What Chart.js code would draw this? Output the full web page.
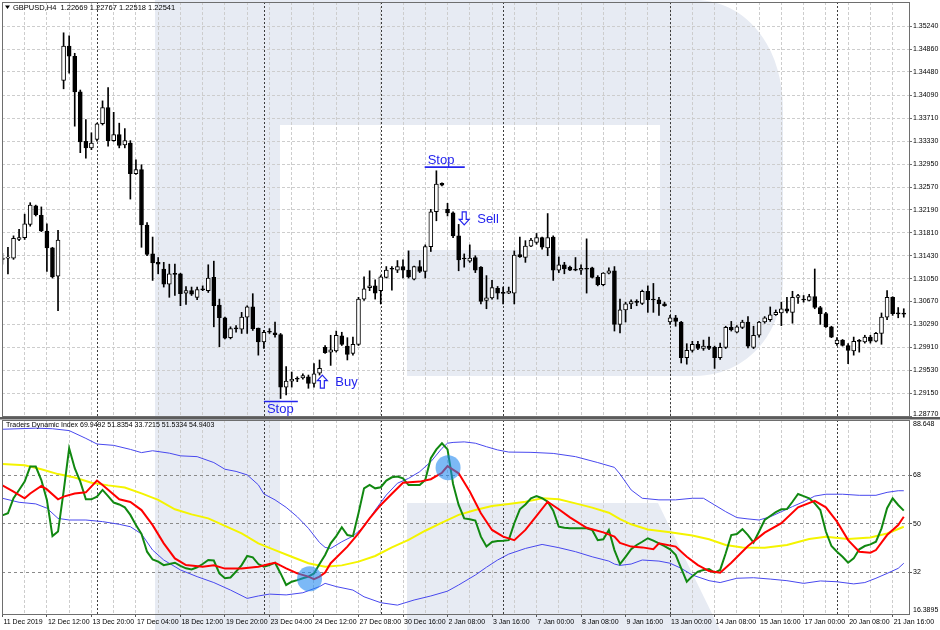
<!DOCTYPE html>
<html><head><meta charset="utf-8">
<script src="https://cdn.jsdelivr.net/npm/chart.js@4/dist/chart.umd.min.js"></script>
<style>
html,body{margin:0;padding:0;background:#fff;}
#wrap{position:relative;width:940px;height:630px;overflow:hidden;background:#fff;}
#bg{position:absolute;left:0;top:0;}
#c1{position:absolute;left:0;top:0;}
#c2{position:absolute;left:0;top:417px;}
</style></head><body>
<div id="wrap">
<svg id="bg" width="940" height="630">
 <g fill="#e7ebf3">
  <rect x="155" y="0" width="125" height="630"/>
  <path d="M155 0 L695 0 C745 0 783 45 783 110 L783 280 C783 335 745 376 695 376 L407 376 L407 250 L660 250 L660 125 L155 125 Z"/>
  <path d="M407 503 L658 503 L720 630 L407 630 Z"/>
 </g>
</svg>
<canvas id="c1" width="940" height="424"></canvas>
<canvas id="c2" width="940" height="213"></canvas>
</div>
<script>
// ---------- DATA ----------
const symbolHeader = 'GBPUSD,H4  1.22669 1.22767 1.22518 1.22541';
const tdiHeader = 'Traders Dynamic Index 69.9492 51.8354 33.7215 51.5334 54.9403';

const xTickLabels = ['11 Dec 2019','12 Dec 12:00','13 Dec 20:00','17 Dec 04:00','18 Dec 12:00','19 Dec 20:00',
 '23 Dec 04:00','24 Dec 12:00','27 Dec 08:00','30 Dec 16:00','2 Jan 08:00','3 Jan 16:00','7 Jan 00:00',
 '8 Jan 08:00','9 Jan 16:00','13 Jan 00:00','14 Jan 08:00','15 Jan 16:00','17 Jan 00:00','20 Jan 08:00','21 Jan 16:00'];
const weekSeparators = [17, 47, 68, 90, 120, 150];

const priceTicks = [1.35240,1.34860,1.34480,1.34090,1.33710,1.33330,1.32950,1.32570,1.32190,1.31810,
 1.31430,1.31050,1.30670,1.30290,1.29910,1.29530,1.29150,1.28770];
const priceTickLabels = priceTicks.map(v => v.toFixed(5));
const tdiTicks = [88.648, 68, 50, 32, 16.3895];
const tdiTickLabels = ['88.648','68','50','32','16.3895'];

const opens = [1.3137,1.3139,1.3139,1.3170,1.3173,1.3195,1.3226,1.3210,1.3184,1.3156,
1.3109,1.3434,1.3491,1.3474,1.3415,1.3333,1.3322,1.3336,1.3362,1.3389,
1.3334,1.3344,1.3327,1.3330,1.3279,1.3286,1.3194,1.3146,1.3132,1.3121,
1.3096,1.3112,1.3113,1.3081,1.3085,1.3074,1.3087,1.3085,1.3107,1.3061,
1.3040,1.3007,1.3022,1.3021,1.3041,1.3058,1.3023,1.3000,1.3016,1.3015,
1.3012,1.2925,1.2935,1.2938,1.2940,1.2942,1.2931,1.2948,1.2991,1.2983,
1.2985,1.3010,1.2993,1.2981,1.2996,1.3071,1.3090,1.3093,1.3085,1.3107,
1.3121,1.3119,1.3125,1.3119,1.3104,1.3125,1.3117,1.3158,1.3216,1.3263,
1.3220,1.3214,1.3176,1.3138,1.3134,1.3140,1.3124,1.3069,1.3073,1.3089,
1.3081,1.3081,1.3081,1.3145,1.3140,1.3159,1.3165,1.3173,1.3156,1.3174,
1.3119,1.3128,1.3124,1.31195,1.3119,1.3121,1.3123,1.3107,1.3095,1.3114,
1.3118,1.3029,1.3053,1.3063,1.3066,1.3064,1.3084,1.3070,1.3070,1.3063,
1.3033,1.3040,1.3033,1.2974,1.2986,1.2996,1.2989,1.2993,1.2991,1.2974,
1.2991,1.3024,1.3016,1.3024,1.3033,1.2991,1.3011,1.3033,1.3037,1.3045,
1.3048,1.3055,1.3049,1.3074,1.3070,1.3069,1.3075,1.3057,1.3047,1.3025,
1.2997,1.3003,1.2994,1.2985,1.3001,1.3000,1.3008,1.3001,1.3014,1.3041,
1.3074,1.3047,1.3047];
const highs = [1.3147,1.3157,1.3176,1.3187,1.3212,1.3231,1.3227,1.3224,1.3196,1.3157,
1.3185,1.3513,1.3508,1.3479,1.3418,1.3369,1.3347,1.3363,1.3400,1.3422,
1.3381,1.3363,1.3354,1.3334,1.3302,1.3294,1.3198,1.3174,1.3140,1.3132,
1.3129,1.3129,1.3114,1.3092,1.3091,1.3091,1.3093,1.3128,1.3134,1.3071,
1.3041,1.3025,1.3027,1.3049,1.3060,1.3080,1.3023,1.3019,1.3022,1.3033,
1.3014,1.2959,1.2950,1.2942,1.2947,1.2945,1.2964,1.2970,1.2994,1.3011,
1.3018,1.3016,1.3007,1.3008,1.3074,1.3108,1.3118,1.3103,1.3110,1.3125,
1.3125,1.3135,1.3136,1.3151,1.3126,1.3135,1.3161,1.3220,1.3284,1.3264,
1.3230,1.3216,1.3195,1.3146,1.3161,1.3143,1.3125,1.3110,1.3102,1.3092,
1.3091,1.3091,1.3151,1.3174,1.3168,1.3172,1.3180,1.3174,1.3213,1.3176,
1.3141,1.3132,1.3126,1.3140,1.3128,1.3171,1.3124,1.3110,1.3115,1.3123,
1.3125,1.3071,1.3066,1.3070,1.3070,1.3086,1.3093,1.3097,1.3074,1.3066,
1.3044,1.3044,1.3034,1.2997,1.3001,1.3001,1.3003,1.3008,1.2993,1.2998,
1.3026,1.3034,1.3027,1.3036,1.3042,1.3026,1.3034,1.3042,1.3058,1.3053,
1.3066,1.3074,1.3084,1.3079,1.3077,1.3079,1.3121,1.3059,1.3049,1.3026,
1.3007,1.3004,1.2997,1.3008,1.3004,1.3011,1.3011,1.3016,1.3048,1.3085,
1.3075,1.3057,1.3055];
const lows = [1.3129,1.3113,1.3137,1.3168,1.3170,1.3192,1.3209,1.3183,1.3117,1.3106,
1.3052,1.3420,1.3446,1.3358,1.3314,1.3305,1.3319,1.3333,1.3360,1.3325,
1.3333,1.3322,1.3322,1.3237,1.3278,1.3157,1.3143,1.3102,1.3113,1.3091,
1.3074,1.3077,1.3060,1.3062,1.3077,1.3070,1.3085,1.3082,1.3025,1.2992,
1.3005,1.3005,1.3016,1.3014,1.3014,1.3019,1.2978,1.2989,1.3014,1.3008,
1.2906,1.2912,1.2925,1.2934,1.2938,1.2923,1.2925,1.2945,1.2981,1.2961,
1.2983,1.2994,1.2970,1.2978,1.2994,1.3069,1.3085,1.3071,1.3063,1.3106,
1.3086,1.3115,1.3106,1.3106,1.3103,1.3115,1.3106,1.3150,1.3201,1.3259,
1.3209,1.3173,1.3118,1.3124,1.3132,1.3115,1.3063,1.3055,1.3071,1.3071,
1.3063,1.3080,1.3063,1.3140,1.3132,1.3158,1.3162,1.3154,1.3143,1.3102,
1.3115,1.3113,1.3118,1.3118,1.3112,1.3081,1.3106,1.3093,1.3093,1.3113,
1.3018,1.3015,1.3033,1.3055,1.3060,1.3062,1.3049,1.3049,1.3044,1.3059,
1.3029,1.3026,1.2965,1.2963,1.2983,1.2987,1.2986,1.2987,1.2956,1.2971,
1.2989,1.3018,1.3015,1.3022,1.2990,1.2989,1.3008,1.3031,1.3034,1.3044,
1.3027,1.3048,1.3031,1.3064,1.3066,1.3068,1.3055,1.3029,1.3024,1.3007,
1.2994,1.2993,1.2964,1.2978,1.2983,1.2998,1.2998,1.3000,1.2996,1.3037,
1.3044,1.3040,1.3041];
const closes = [1.3139,1.3140,1.3172,1.3173,1.3196,1.3227,1.3211,1.3184,1.3156,1.3108,
1.3169,1.3491,1.3474,1.3415,1.3332,1.3322,1.3330,1.3362,1.3389,1.3334,
1.3344,1.3326,1.3334,1.3279,1.3286,1.3194,1.3145,1.3131,1.3129,1.3096,
1.3113,1.31125,1.3080,1.3085,1.3079,1.3087,1.30865,1.3106,1.3060,1.3040,
1.3006,1.3022,1.30215,1.3041,1.3058,1.3022,1.3000,1.3016,1.30165,1.3012,
1.2925,1.2935,1.2938,1.29385,1.2944,1.2931,1.2947,1.2956,1.2982,1.2987,
1.3011,1.2996,1.2979,1.2996,1.3071,1.3088,1.3093,1.3081,1.3108,1.3119,
1.31205,1.3125,1.3119,1.3108,1.3125,1.3117,1.3158,1.3216,1.3262,1.3260,
1.3214,1.3176,1.3136,1.31375,1.3139,1.3119,1.3067,1.3073,1.3090,1.3081,
1.30805,1.3084,1.3144,1.3141,1.3159,1.3169,1.3173,1.3157,1.3173,1.3119,
1.3128,1.3121,1.3119,1.3119,1.3122,1.31205,1.3107,1.3095,1.3114,1.3118,
1.3029,1.3053,1.3063,1.3067,1.30655,1.3084,1.3070,1.30695,1.3063,1.3060,
1.3040,1.3034,1.2974,1.2986,1.2996,1.2989,1.2993,1.2989,1.2974,1.2991,
1.3024,1.3020,1.3025,1.3033,1.2993,1.3011,1.3033,1.3040,1.3045,1.3049,
1.3055,1.3051,1.3074,1.3077,1.30695,1.3075,1.3057,1.3047,1.3025,1.3008,
1.3003,1.2994,1.2986,1.3001,1.30008,1.3008,1.3001,1.3014,1.3041,1.3074,
1.3047,1.30466,1.3046];

// Traders Dynamic Index lines (bar index, value)
const rsiPriceLine = [53.1,53.9,59.5,62.6,65.7,71.3,71.3,66.3,58.9,45.4,
47.1,62.0,78.1,70.7,65.7,59.1,59.1,60.1,62.6,60.3,
57.9,57.2,56.1,53.3,49.5,46.2,39.6,36.7,35.9,34.6,
35.0,35.5,34.3,33.4,33.0,33.8,35.0,36.5,36.3,31.5,
29.7,30.0,32.2,34.6,38.0,37.5,35.0,34.0,34.6,35.5,
31.5,27.2,28.4,29.0,29.7,30.3,31.5,35.0,38.4,42.7,
45.4,48.7,45.8,45.4,53.9,63.2,64.5,63.2,63.6,66.1,
67.3,67.6,66.9,64.4,64.4,64.4,66.3,74.4,77.7,80.0,
77.7,64.8,57.0,52.0,51.7,51.2,45.2,41.5,43.2,43.6,
43.7,43.9,50.2,55.4,57.2,59.5,60.3,59.5,58.2,54.9,
48.9,48.5,48.3,48.3,48.3,48.3,47.7,43.9,44.2,47.7,
40.2,35.0,37.7,40.5,42.1,43.3,44.6,43.7,42.7,41.7,
40.5,38.4,33.4,28.4,30.5,32.2,32.8,33.1,31.8,32.8,
39.0,45.8,46.2,48.0,45.8,43.0,47.1,51.4,52.9,54.3,
55.4,55.5,58.2,61.1,60.3,59.5,57.6,55.1,47.1,41.7,
39.6,37.7,35.5,37.1,40.5,41.7,42.3,43.3,48.3,55.8,
59.5,57.0,54.9];
const tradeSignalLine = [[0,64.3],[2,62.0],[4,59.5],[5,61.3],[7,64.1],[8,62.8],[10,59.1],[11,60.1],[13,61.3],[15,61.7],
[17,66.1],[18,64.4],[21,59.1],[23,58.1],[25,55.1],[27,49.5],[29,42.7],[31,37.1],[33,34.6],[36,34.0],
[38,34.5],[40,33.3],[43,33.3],[46,34.0],[48,35.0],[49,35.5],[51,33.4],[53,31.5],[55,30.3],[56,29.4],
[57,30.3],[58,31.8],[59,35.3],[62,41.5],[64,46.4],[66,52.0],[68,57.0],[70,61.2],[72,65.3],[75,65.7],
[77,66.6],[79,69.0],[80,71.5],[82,68.8],[84,62.0],[86,53.9],[88,47.7],[90,45.2],[92,43.9],[94,47.7],
[96,52.9],[98,58.2],[100,55.4],[102,52.4],[105,48.5],[108,46.8],[110,45.2],[111,42.9],[113,41.5],[115,41.2],
[117,40.5],[118,42.7],[121,41.5],[123,37.7],[125,34.6],[127,32.4],[129,31.8],[131,35.5],[134,41.7],[137,46.7],
[140,50.2],[143,56.1],[146,58.5],[148,56.1],[150,50.8],[152,43.9],[154,39.6],[156,39.2],[157,40.2],[159,45.8],
[161,49.5],[162,52.6]];
const marketBaseLine = [[0,72.3],[4,71.8],[7,70.3],[10,68.5],[13,67.2],[16,65.3],[19,64.3],[22,63.5],[25,61.3],[28,58.9],
[31,55.4],[34,53.5],[37,52.0],[40,49.2],[43,46.4],[46,42.7],[49,40.2],[52,37.7],[55,35.3],[58,34.0],
[61,34.5],[64,35.9],[67,38.0],[70,41.2],[73,44.0],[76,47.4],[79,50.4],[82,53.3],[85,55.1],[88,56.6],
[91,57.4],[94,58.2],[97,59.5],[100,59.1],[103,57.6],[106,56.0],[109,54.1],[111,51.7],[113,49.8],[116,47.9],
[120,46.8],[124,45.6],[127,44.2],[130,42.1],[133,41.2],[137,41.1],[141,42.1],[145,44.3],[148,45.2],[152,44.3],
[156,44.9],[159,46.4],[162,48.9]];
const upperBand = [[0,85.2],[6,85.6],[9,85.4],[12,84.7],[15,81.8],[17,79.7],[20,79.2],[23,77.7],[25,76.5],[27,77.2],
[30,76.3],[32,75.3],[35,75.0],[38,72.8],[40,70.3],[42,69.5],[44,68.2],[46,64.5],[47,61.1],[49,58.9],
[51,56.1],[53,52.6],[55,48.3],[57,43.0],[58,41.2],[59,40.8],[61,43.3],[63,45.4],[65,48.9],[67,55.1],
[69,60.7],[71,65.1],[73,66.9],[75,69.4],[77,73.1],[79,78.1],[80,80.0],[81,80.3],[83,80.5],[85,80.0],
[87,78.7],[89,77.5],[91,76.7],[95,76.6],[99,76.2],[103,75.0],[107,72.8],[110,71.0],[111,68.5],[113,62.6],
[115,59.5],[118,58.9],[121,58.9],[124,59.5],[126,59.5],[128,57.0],[130,54.5],[132,52.3],[134,51.8],[136,51.4],
[138,52.6],[140,54.5],[142,56.4],[144,58.2],[146,60.3],[148,61.0],[151,61.0],[154,60.6],[157,60.6],[159,61.7],
[161,62.3],[162,62.3]];
const lowerBand = [[0,59.5],[3,58.0],[6,57.4],[8,55.8],[10,52.0],[12,51.4],[15,51.4],[18,50.8],[21,49.8],[23,48.9],
[25,46.2],[27,40.2],[29,36.5],[32,32.8],[35,30.3],[38,28.1],[41,25.3],[44,22.2],[46,23.1],[48,23.8],
[51,23.5],[54,24.3],[57,26.6],[58,27.8],[60,26.6],[63,25.3],[65,22.8],[68,20.6],[71,19.7],[74,21.6],
[77,23.1],[80,24.9],[82,27.2],[85,30.9],[87,33.8],[89,36.5],[91,38.7],[94,40.8],[97,42.3],[100,41.1],
[103,39.6],[106,37.7],[109,36.1],[110,35.0],[111,34.5],[113,35.0],[115,36.5],[118,36.1],[120,35.3],[122,33.4],
[124,30.9],[127,28.8],[129,28.1],[132,29.7],[135,29.9],[138,29.4],[141,28.8],[144,27.8],[147,28.7],[150,28.4],
[153,27.6],[155,28.1],[157,29.7],[159,31.5],[161,33.4],[162,35.3]];
const crossMarks = [[55.2, 29.5],[80.1, 70.9]];

const stopLevels = [
  {text:'Stop', from:47.0, to:53.1, price:1.2901, below:true},
  {text:'Stop', from:75.9, to:83.1, price:1.3290, below:false}
];
const tradeSignals = [
  {text:'Buy', bar:57.5, price:1.2934, dir:'up'},
  {text:'Sell', bar:83.0, price:1.3205, dir:'down'}
];

// ---------- RENDER ----------
Chart.defaults.font.family = "'Liberation Sans', Arial, sans-serif";
const X_MIN = -0.07, X_MAX = 162.94;
const gridBars = []; for (let k = 0; k <= 162; k += 4) gridBars.push(k);
const BLUE = '#2424ee';
const noPad = s => { s.paddingLeft = 0; s.paddingRight = 0; s.paddingTop = 0; s.paddingBottom = 0; };

function drawSeparators(chart){
  const {ctx, chartArea:a, scales:{x}} = chart;
  ctx.save();
  ctx.strokeStyle = '#3c3c3c'; ctx.lineWidth = 1; ctx.setLineDash([2,2]);
  weekSeparators.forEach(k => {
    const px = Math.round(x.getPixelForValue(k)) + 0.5;
    ctx.beginPath(); ctx.moveTo(px, a.top); ctx.lineTo(px, a.bottom); ctx.stroke();
  });
  ctx.restore();
}
function drawFrame(chart){
  const {ctx, chartArea:a} = chart;
  ctx.save(); ctx.strokeStyle = '#6e6e6e'; ctx.lineWidth = 1;
  ctx.strokeRect(Math.round(a.left)+0.5, Math.round(a.top)+0.5, Math.round(a.right-a.left), Math.round(a.bottom-a.top));
  ctx.restore();
}
function drawAxisLabels(chart, values, labels, topInset, bottomInset){
  const {ctx, chartArea:a, scales:{y}} = chart;
  ctx.save();
  ctx.fillStyle = '#000';
  ctx.font = "7px 'Liberation Sans', Arial, sans-serif";
  ctx.textBaseline = 'middle'; ctx.textAlign = 'left';
  values.forEach((v, i) => {
    let py = y.getPixelForValue(v);
    py = Math.min(Math.max(py, a.top + topInset), a.bottom - bottomInset);
    ctx.fillText(labels[i], a.right + 4, py);
  });
  ctx.restore();
}
function drawArrow(ctx, cx, cy, dir){
  const s = dir === 'up' ? 1 : -1;
  ctx.beginPath();
  ctx.moveTo(cx, cy - 6.5*s);
  ctx.lineTo(cx + 5, cy - 1*s);
  ctx.lineTo(cx + 2, cy - 1*s);
  ctx.lineTo(cx + 2, cy + 6.5*s);
  ctx.lineTo(cx - 2, cy + 6.5*s);
  ctx.lineTo(cx - 2, cy - 1*s);
  ctx.lineTo(cx - 5, cy - 1*s);
  ctx.closePath();
  ctx.lineWidth = 1.2; ctx.stroke();
}

const upperPlugin = {
  id:'upperDeco',
  beforeDatasetsDraw(chart){ drawSeparators(chart); },
  afterDatasetsDraw(chart){
    const {ctx, scales:{x, y}} = chart;
    ctx.save();
    ctx.strokeStyle = BLUE; ctx.fillStyle = BLUE;
    ctx.font = "13px 'Liberation Sans', Arial, sans-serif";
    ctx.textBaseline = 'middle'; ctx.textAlign = 'left';
    stopLevels.forEach(s => {
      const x0 = x.getPixelForValue(s.from), x1 = x.getPixelForValue(s.to), py = y.getPixelForValue(s.price);
      ctx.lineWidth = 1.6; ctx.beginPath(); ctx.moveTo(x0, py); ctx.lineTo(x1, py); ctx.stroke();
      ctx.fillText(s.text, x0 + 3, py + (s.below ? 8 : -7));
    });
    tradeSignals.forEach(t => {
      const cx = x.getPixelForValue(t.bar), cy = y.getPixelForValue(t.price);
      drawArrow(ctx, cx, cy, t.dir);
      ctx.fillText(t.text, cx + 13, cy + 1);
    });
    ctx.restore();
  },
  afterDraw(chart){
    drawFrame(chart);
    drawAxisLabels(chart, priceTicks, priceTickLabels, 0, 2);
    const ctx = chart.ctx;
    ctx.save();
    ctx.fillStyle = '#000';
    ctx.beginPath(); ctx.moveTo(5, 5.5); ctx.lineTo(10, 5.5); ctx.lineTo(7.5, 9); ctx.closePath(); ctx.fill();
    ctx.font = "7.5px 'Liberation Sans', Arial, sans-serif";
    ctx.textBaseline = 'middle'; ctx.textAlign = 'left';
    ctx.fillText(symbolHeader, 13, 7.5);
    ctx.restore();
  }
};

const bodyColors = opens.map((o, i) => (closes[i] - o) > 0.00006 ? '#ffffff' : '#000000');

new Chart(document.getElementById('c1'), {
  type: 'bar',
  data: { datasets: [
    { data: opens.map((o, i) => ({x: i, y: [Math.min(o, closes[i]), Math.max(o, closes[i])]})),
      backgroundColor: bodyColors, borderColor: '#000', borderWidth: 1, borderSkipped: false,
      barThickness: 4, minBarLength: 1, grouped: false, order: 1 },
    { data: lows.map((l, i) => ({x: i, y: [l, highs[i]]})),
      backgroundColor: '#000', borderWidth: 0, barThickness: 1, minBarLength: 1, grouped: false, order: 2 }
  ]},
  options: {
    responsive: false, animation: false,
    plugins: { legend: {display: false}, tooltip: {enabled: false} },
    layout: { autoPadding: false, padding: {left: 2, top: 2, right: 0, bottom: 8} },
    scales: {
      x: { type: 'linear', min: X_MIN, max: X_MAX, offset: false,
        afterBuildTicks: s => { s.ticks = gridBars.map(v => ({value: v})); },
        ticks: {display: false},
        grid: {color: '#cdcdcd', drawTicks: false, offset: false, lineWidth: 1},
        border: {display: false, dash: [3, 2]},
        afterFit: s => { s.height = 0; noPad(s); } },
      y: { position: 'right', min: 1.28770, max: 1.35641,
        afterBuildTicks: s => { s.ticks = priceTicks.map(v => ({value: v})); },
        ticks: {display: false},
        grid: {color: '#cdcdcd', tickLength: 3, drawTicks: true, tickColor: '#707070'},
        border: {display: false, dash: [3, 2]},
        afterFit: s => { s.width = 31; noPad(s); } }
    }
  },
  plugins: [upperPlugin]
});

const lowerPlugin = {
  id:'lowerDeco',
  beforeDatasetsDraw(chart){ drawSeparators(chart); },
  afterDraw(chart){
    drawFrame(chart);
    drawAxisLabels(chart, tdiTicks, tdiTickLabels, 4, 4);
    const ctx = chart.ctx;
    ctx.save();
    ctx.fillStyle = '#5c5c5c';
    ctx.fillRect(0, 0, 940, 2.5);
    ctx.fillStyle = '#000';
    ctx.font = "7px 'Liberation Sans', Arial, sans-serif";
    ctx.textBaseline = 'middle'; ctx.textAlign = 'left';
    ctx.fillText(tdiHeader, 6, 8);
    ctx.restore();
  }
};

const pairs = arr => arr.map(p => ({x: p[0], y: p[1]}));
new Chart(document.getElementById('c2'), {
  type: 'line',
  data: { datasets: [
    { data: pairs(crossMarks), showLine: false, pointRadius: 12.5, pointHoverRadius: 12.5,
      pointBackgroundColor: 'rgba(30,135,240,0.58)', pointBorderWidth: 0, order: 0 },
    { data: pairs(tradeSignalLine), borderColor: '#ff0000', borderWidth: 2, pointRadius: 0, tension: 0, order: 1 },
    { data: rsiPriceLine.map((v, i) => ({x: i, y: v})), borderColor: '#118811', borderWidth: 2, pointRadius: 0, tension: 0, order: 2 },
    { data: pairs(marketBaseLine), borderColor: '#f4f400', borderWidth: 2, pointRadius: 0, tension: 0, order: 3 },
    { data: pairs(upperBand), borderColor: '#4848ee', borderWidth: 1, pointRadius: 0, tension: 0, order: 4 },
    { data: pairs(lowerBand), borderColor: '#4848ee', borderWidth: 1, pointRadius: 0, tension: 0, order: 4 }
  ]},
  options: {
    responsive: false, animation: false,
    plugins: { legend: {display: false}, tooltip: {enabled: false} },
    layout: { autoPadding: false, padding: {left: 2, top: 3, right: 0, bottom: 0} },
    scales: {
      x: { type: 'linear', min: X_MIN, max: X_MAX, offset: false,
        afterBuildTicks: s => { s.ticks = gridBars.map(v => ({value: v})); },
        ticks: {autoSkip: false, maxRotation: 0, align: 'start', padding: 1, labelOffset: 1, color: '#000', font: {size: 7},
          callback: v => (v % 8 === 0 ? xTickLabels[v / 8] : '')},
        grid: {color: '#cdcdcd', offset: false, tickLength: 3,
          tickColor: c => (c.tick && c.tick.value % 8 === 0) ? '#555' : 'rgba(0,0,0,0)'},
        border: {display: false, dash: [3, 2]},
        afterFit: s => { s.height = 16; noPad(s); } },
      y: { position: 'right', min: 16.3895, max: 88.648,
        afterBuildTicks: s => { s.ticks = tdiTicks.map(v => ({value: v})); },
        ticks: {display: false},
        grid: {color: c => (c.tick && c.tick.value > 17 && c.tick.value < 88) ? '#8a8a8a' : 'rgba(0,0,0,0)',
          tickLength: 3, tickColor: c => (c.tick && c.tick.value > 17 && c.tick.value < 88) ? '#555' : 'rgba(0,0,0,0)'},
        border: {display: false, dash: [3, 3]},
        afterFit: s => { s.width = 31; noPad(s); } }
    }
  },
  plugins: [lowerPlugin]
});
</script>
</body></html>
